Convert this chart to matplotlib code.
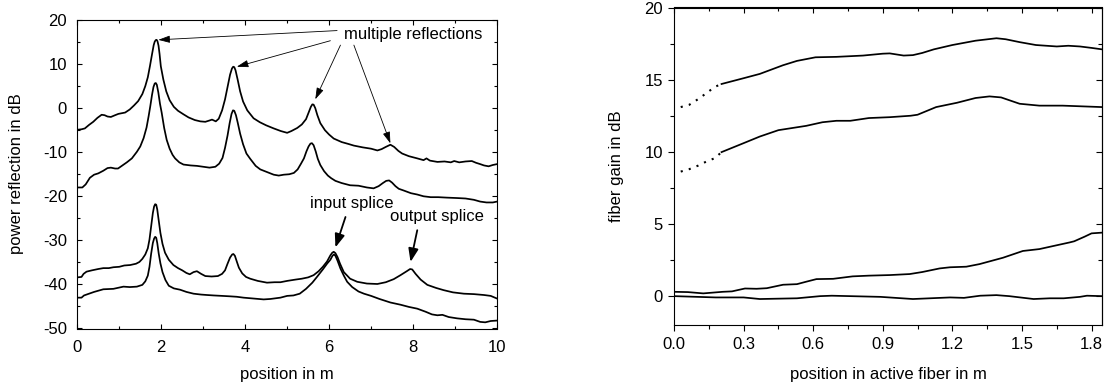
import matplotlib
matplotlib.use("Agg")
import matplotlib.pyplot as plt
from matplotlib.ticker import MultipleLocator, FormatStrFormatter

plt.rcParams['font.family'] = ['Liberation Sans', 'DejaVu Sans']
plt.rcParams['axes.unicode_minus'] = False

# ---------------- Left panel data: power reflection (dB) vs position (m) ----------------
refl1_x = [0.0, 0.1, 0.18, 0.28, 0.38, 0.48, 0.58, 0.65, 0.72, 0.8, 0.9, 0.98, 1.14, 1.25, 1.35, 1.45,
           1.55, 1.62, 1.68, 1.73, 1.78, 1.82, 1.845, 1.87, 1.89, 1.91, 1.935, 1.96, 1.99, 2.05, 2.12, 2.2, 2.3, 2.4,
           2.53, 2.65, 2.8, 2.93, 3.05, 3.15, 3.21, 3.3, 3.37, 3.45, 3.52, 3.58, 3.64, 3.685, 3.715, 3.74, 3.77,
           3.82, 3.88, 3.95, 4.05, 4.2, 4.35, 4.5, 4.68, 4.85, 5.0, 5.1, 5.24, 5.35, 5.45, 5.52, 5.565,
           5.6, 5.63, 5.67, 5.72, 5.79, 5.9, 6.0, 6.11, 6.3, 6.45, 6.59, 6.8, 7.0, 7.15, 7.25, 7.35, 7.46,
           7.55, 7.65, 7.74, 7.9, 8.1, 8.25, 8.32, 8.4, 8.58, 8.75, 8.9, 8.98, 9.1, 9.25, 9.4, 9.5,
           9.6, 9.69, 9.8, 9.9, 10.0]
refl1_y = [-4.9, -4.8, -4.6, -3.8, -3.1, -2.2, -1.5, -1.6, -1.9, -2.0, -1.6, -1.3, -1.0, -0.3, 0.6, 1.6,
           3.2, 5.0, 7.0, 9.5, 12.2, 14.3, 15.1, 15.45, 15.5, 15.2, 14.2, 12.3, 9.5, 6.5, 3.8, 1.8, 0.3, -0.6,
           -1.4, -2.1, -2.7, -3.0, -3.1, -2.8, -2.6, -3.0, -2.4, -0.5, 2.0, 4.8, 7.6, 9.0, 9.4, 9.3, 8.6,
           6.5, 3.8, 1.5, -0.5, -2.3, -3.2, -3.9, -4.6, -5.2, -5.6, -5.2, -4.5, -3.7, -2.5, -0.8, 0.3,
           0.85, 0.8, 0.0, -1.6, -3.4, -5.0, -6.0, -6.9, -7.7, -8.1, -8.5, -8.9, -9.2, -9.6, -9.3, -8.8, -8.3,
           -8.8, -9.7, -10.3, -10.9, -11.4, -11.8, -11.4, -11.9, -12.2, -12.1, -12.3, -12.0, -12.3, -12.1, -12.0, -12.4,
           -12.7, -13.0, -13.2, -12.9, -12.7]

refl2_x = [0.0, 0.12, 0.2, 0.3, 0.4, 0.5, 0.62, 0.72, 0.8, 0.9, 0.97, 1.06, 1.18, 1.3, 1.42, 1.5,
           1.58, 1.65, 1.7, 1.74, 1.78, 1.815, 1.845, 1.87, 1.895, 1.93, 1.97, 2.01, 2.07, 2.13, 2.2, 2.27, 2.33,
           2.43, 2.53, 2.7, 2.85, 3.0, 3.15, 3.29, 3.38, 3.46, 3.52, 3.58, 3.63, 3.675, 3.71, 3.74, 3.78, 3.82,
           3.88, 3.95, 4.03, 4.12, 4.25, 4.36, 4.52, 4.68, 4.8, 4.92, 5.05, 5.16, 5.25, 5.33, 5.4, 5.46,
           5.51, 5.555, 5.59, 5.63, 5.68, 5.73, 5.79, 5.88, 5.97, 6.05, 6.15, 6.3, 6.5, 6.7, 6.9, 7.06, 7.18,
           7.28, 7.36, 7.43, 7.5, 7.58, 7.66, 7.78, 7.95, 8.1, 8.25, 8.42, 8.6, 8.8, 9.05, 9.25, 9.45,
           9.6, 9.75, 9.9, 10.0]
refl2_y = [-18.0, -18.0, -17.3, -15.8, -15.1, -14.8, -14.2, -13.6, -13.5, -13.7, -13.7, -13.1, -12.3, -11.4, -9.9, -8.7,
           -6.8, -4.4, -1.8, 0.5, 3.0, 4.8, 5.6, 5.7, 5.3, 3.6, 1.0, -1.0, -4.5, -7.2, -9.2, -10.6, -11.4,
           -12.3, -12.8, -13.0, -13.1, -13.3, -13.5, -13.3, -12.6, -11.3, -9.0, -6.2, -3.4, -1.3, -0.5, -0.6, -1.6, -3.2,
           -5.8, -8.2, -10.3, -11.5, -13.1, -13.9, -14.5, -15.1, -15.3, -15.1, -15.0, -14.7, -13.9, -12.6, -11.4, -9.8,
           -8.7, -8.05, -7.95, -8.4, -9.8, -11.5, -12.9, -14.3, -15.3, -15.9, -16.5, -17.0, -17.5, -17.6, -18.0, -18.2, -17.7,
           -17.0, -16.5, -16.4, -16.9, -17.7, -18.3, -18.7, -19.3, -19.6, -20.0, -20.2, -20.2, -20.3, -20.4, -20.5, -20.8,
           -21.2, -21.4, -21.4, -21.2]

refl3_x = [0.0, 0.1, 0.15, 0.22, 0.35, 0.5, 0.62, 0.75, 0.86, 1.0, 1.12, 1.26, 1.4, 1.48, 1.55, 1.62,
           1.68, 1.72, 1.76, 1.8, 1.83, 1.855, 1.88, 1.905, 1.94, 1.98, 2.03, 2.09, 2.18, 2.29, 2.4, 2.5, 2.6,
           2.68, 2.77, 2.85, 2.95, 3.05, 3.2, 3.35, 3.45, 3.52, 3.58, 3.64, 3.69, 3.72, 3.755, 3.8, 3.85, 3.93,
           4.02, 4.12, 4.3, 4.52, 4.7, 4.84, 5.0, 5.2, 5.35, 5.5, 5.63, 5.75, 5.85, 5.95, 6.03, 6.075,
           6.11, 6.15, 6.2, 6.26, 6.35, 6.5, 6.67, 6.9, 7.15, 7.35, 7.54, 7.7, 7.85, 7.93, 7.98, 8.06, 8.18,
           8.34, 8.55, 8.73, 8.95, 9.21, 9.45, 9.69, 9.85, 10.0]
refl3_y = [-38.4, -38.3, -37.6, -37.1, -36.8, -36.5, -36.3, -36.3, -36.1, -36.0, -35.7, -35.6, -35.3, -34.9, -34.2, -33.2,
           -31.8, -29.8, -26.8, -23.8, -22.3, -21.8, -21.9, -23.0, -25.5, -28.3, -30.8, -32.8, -34.4, -35.6, -36.3, -36.8, -37.4,
           -37.7, -37.2, -37.0, -37.6, -38.1, -38.2, -38.1, -37.6, -36.8, -35.3, -33.9, -33.2, -33.1, -33.5, -34.8, -36.2, -37.5,
           -38.3, -38.7, -39.2, -39.6, -39.5, -39.5, -39.2, -38.9, -38.7, -38.4, -37.9, -37.0, -36.0, -34.8, -33.4, -32.8,
           -32.6, -32.9, -33.8, -35.3, -37.2, -38.7, -39.4, -39.8, -39.9, -39.5, -38.8, -37.9, -37.0, -36.5, -36.6, -37.6, -38.9,
           -40.1, -40.8, -41.3, -41.8, -42.1, -42.2, -42.4, -42.6, -43.2]

refl4_x = [0.0, 0.1, 0.16, 0.22, 0.4, 0.62, 0.86, 1.1, 1.25, 1.42, 1.55, 1.62, 1.68, 1.72, 1.76, 1.8,
           1.83, 1.855, 1.88, 1.905, 1.94, 1.98, 2.03, 2.1, 2.18, 2.3, 2.45, 2.6, 2.77, 2.95, 3.09, 3.25, 3.45,
           3.64, 3.8, 3.96, 4.2, 4.44, 4.6, 4.84, 5.0, 5.15, 5.3, 5.45, 5.6, 5.71, 5.85, 5.95, 6.03,
           6.08, 6.115, 6.15, 6.2, 6.27, 6.35, 6.43, 6.55, 6.7, 6.83, 7.0, 7.2, 7.46, 7.7, 7.9, 8.1, 8.3,
           8.45, 8.58, 8.7, 8.85, 9.05, 9.25, 9.45, 9.6, 9.72, 9.85, 10.0]
refl4_y = [-43.0, -43.0, -42.5, -42.3, -41.7, -41.1, -41.0, -40.5, -40.6, -40.5, -40.1, -39.3, -38.0, -36.0, -33.0, -30.6,
           -29.6, -29.2, -29.4, -30.6, -33.0, -35.2, -37.2, -39.0, -40.3, -40.9, -41.2, -41.7, -42.1, -42.3, -42.4, -42.5, -42.6,
           -42.7, -42.8, -43.0, -43.2, -43.4, -43.3, -43.0, -42.6, -42.5, -42.1, -41.0, -39.6, -38.3, -36.6, -35.3, -34.4,
           -33.5, -33.2, -33.5, -34.6, -36.4, -38.0, -39.4, -40.6, -41.6, -42.1, -42.6, -43.3, -44.1, -44.6, -45.1, -45.5, -46.2,
           -46.8, -47.0, -46.9, -47.4, -47.7, -47.9, -48.0, -48.5, -48.6, -48.3, -48.2]

# ---------------- Right panel data: fiber gain (dB) vs position in active fiber (m) ----------------
gain1_x = [0.205, 0.30, 0.37, 0.42, 0.47, 0.53, 0.61, 0.70, 0.815, 0.9, 0.93, 0.97, 0.99, 1.03, 1.07, 1.12,
           1.20, 1.30, 1.39, 1.43, 1.49, 1.56, 1.65, 1.70, 1.75, 1.80, 1.845]
gain1_y = [14.7, 15.1, 15.4, 15.7, 16.0, 16.3, 16.55, 16.58, 16.67, 16.8, 16.82, 16.72, 16.67, 16.7, 16.85, 17.1,
           17.4, 17.7, 17.87, 17.8, 17.6, 17.4, 17.3, 17.35, 17.3, 17.2, 17.1]
gain1_dot_x = [0.029, 0.066, 0.105, 0.14, 0.176, 0.205]
gain1_dot_y = [13.1, 13.26, 13.66, 14.07, 14.5, 14.7]

gain2_x = [0.205, 0.30, 0.37, 0.45, 0.51, 0.57, 0.64, 0.70, 0.76, 0.84, 0.93, 1.02, 1.05, 1.13, 1.22, 1.30,
           1.36, 1.41, 1.49, 1.575, 1.675, 1.76, 1.845]
gain2_y = [9.98, 10.6, 11.06, 11.5, 11.65, 11.8, 12.05, 12.15, 12.15, 12.34, 12.4, 12.5, 12.57, 13.1, 13.4, 13.73,
           13.84, 13.77, 13.33, 13.2, 13.2, 13.15, 13.1]
gain2_dot_x = [0.029, 0.066, 0.105, 0.14, 0.176, 0.205]
gain2_dot_y = [8.63, 8.8, 9.05, 9.33, 9.56, 9.98]

gain3_x = [0.0, 0.06, 0.126, 0.21, 0.25, 0.306, 0.356, 0.4, 0.47, 0.53, 0.57, 0.614, 0.686, 0.77, 0.84, 0.93,
           1.016, 1.07, 1.145, 1.19, 1.26, 1.317, 1.418, 1.504, 1.575, 1.654, 1.705, 1.725, 1.77, 1.80, 1.845]
gain3_y = [0.3, 0.28, 0.19, 0.3, 0.33, 0.53, 0.51, 0.55, 0.79, 0.83, 1.0, 1.18, 1.2, 1.37, 1.42, 1.46,
           1.53, 1.67, 1.92, 2.0, 2.04, 2.22, 2.66, 3.13, 3.26, 3.54, 3.72, 3.8, 4.12, 4.35, 4.4]

gain4_x = [0.0, 0.18, 0.3, 0.37, 0.53, 0.63, 0.68, 0.89, 1.03, 1.19, 1.25, 1.32, 1.39, 1.445, 1.55, 1.62,
           1.68, 1.75, 1.78, 1.845]
gain4_y = [0.0, -0.09, -0.09, -0.2, -0.15, 0.0, 0.03, -0.05, -0.2, -0.09, -0.12, 0.03, 0.07, 0.0, -0.2, -0.15,
           -0.15, -0.05, 0.03, 0.0]

# ---------------- Figure ----------------
W, H = 1110, 389
fig = plt.figure(figsize=(W / 100, H / 100), dpi=100)

def px_rect(x0, y0, x1, y1):
    return [x0 / W, 1 - y1 / H, (x1 - x0) / W, (y1 - y0) / H]

LW = 1.25
FS = 12

# ---- Left axes ----
ax1 = fig.add_axes(px_rect(77.3, 20, 497, 328.5))
for xs, ys in [(refl1_x, refl1_y), (refl2_x, refl2_y), (refl3_x, refl3_y), (refl4_x, refl4_y)]:
    ax1.plot(xs, ys, color='black', lw=LW, solid_joinstyle='round')
ax1.set_xlim(0, 10)
ax1.set_ylim(-50, 20)
ax1.xaxis.set_major_locator(MultipleLocator(2))
ax1.xaxis.set_minor_locator(MultipleLocator(1))
ax1.yaxis.set_major_locator(MultipleLocator(10))
ax1.yaxis.set_minor_locator(MultipleLocator(5))
ax1.tick_params(which='both', direction='in', top=True, right=True, width=0.8, labelsize=FS)
ax1.tick_params(which='major', length=3.8)
ax1.tick_params(which='minor', length=2.4)
ax1.tick_params(axis='x', pad=8)
ax1.tick_params(axis='y', pad=7.5)
for s in ax1.spines.values():
    s.set_linewidth(0.8)

# annotations on left axes
ax1.text(6.35, 16.6, 'multiple reflections', fontsize=FS, ha='left', va='center')
thin = dict(arrowstyle='-|>,head_length=0.7,head_width=0.22', lw=0.6, color='black',
            shrinkA=0, shrinkB=0, mutation_scale=10)
ax1.annotate('', xy=(1.93, 15.5), xytext=(6.19, 17.6), arrowprops=thin)
ax1.annotate('', xy=(3.80, 9.4), xytext=(6.03, 15.3), arrowprops=thin)
ax1.annotate('', xy=(5.67, 2.0), xytext=(6.27, 14.3), arrowprops=thin)
ax1.annotate('', xy=(7.46, -8.0), xytext=(6.59, 14.3), arrowprops=thin)

thick = dict(arrowstyle='-|>,head_length=0.8,head_width=0.3', lw=1.3, color='black',
             shrinkA=0, shrinkB=0, mutation_scale=10)
ax1.text(6.53, -21.6, 'input splice', fontsize=FS, ha='center', va='center')
ax1.annotate('', xy=(6.15, -31.6), xytext=(6.39, -24.7), arrowprops=thick)
ax1.text(8.56, -24.7, 'output splice', fontsize=FS, ha='center', va='center')
ax1.annotate('', xy=(7.94, -34.9), xytext=(8.10, -27.7), arrowprops=thick)

# ---- Right axes ----
ax2 = fig.add_axes(px_rect(674, 7.5, 1102, 325))
ax2.plot(gain1_x, gain1_y, color='black', lw=LW)
ax2.plot(gain1_dot_x, gain1_dot_y, color='black', lw=1.5, linestyle=(0, (1, 3)))
ax2.plot(gain2_x, gain2_y, color='black', lw=LW)
ax2.plot(gain2_dot_x, gain2_dot_y, color='black', lw=1.5, linestyle=(0, (1, 3)))
ax2.plot(gain3_x, gain3_y, color='black', lw=LW)
ax2.plot(gain4_x, gain4_y, color='black', lw=LW)
ax2.set_xlim(0, 1.845)
ax2.set_ylim(-2, 20)
ax2.xaxis.set_major_locator(MultipleLocator(0.3))
ax2.xaxis.set_minor_locator(MultipleLocator(0.15))
ax2.xaxis.set_major_formatter(FormatStrFormatter('%.1f'))
ax2.yaxis.set_major_locator(MultipleLocator(5))
ax2.yaxis.set_minor_locator(MultipleLocator(2.5))
ax2.tick_params(which='both', direction='out', width=0.8, labelsize=FS)
ax2.tick_params(which='major', length=4.3)
ax2.tick_params(which='minor', length=2.6)
ax2.tick_params(axis='x', pad=4.5)
ax2.tick_params(axis='y', pad=3.6)
for s in ax2.spines.values():
    s.set_linewidth(0.8)

top = ax2.secondary_xaxis('top')
top.xaxis.set_major_locator(MultipleLocator(0.3))
top.xaxis.set_minor_locator(MultipleLocator(0.15))
top.tick_params(which='both', direction='in', width=0.8, labeltop=False)
top.tick_params(which='major', length=4.3)
top.tick_params(which='minor', length=2.6)
top.spines['top'].set_linewidth(0.8)
right = ax2.secondary_yaxis('right')
right.yaxis.set_major_locator(MultipleLocator(5))
right.yaxis.set_minor_locator(MultipleLocator(2.5))
right.tick_params(which='both', direction='in', width=0.8, labelright=False)
right.tick_params(which='major', length=4.3)
right.tick_params(which='minor', length=2.6)
right.spines['right'].set_linewidth(0.8)

# ---- axis labels ----
fig.text(17 / W, 1 - 174 / H, 'power reflection in dB', rotation=90, ha='center', va='center', fontsize=FS)
fig.text(287 / W, 1 - 379.5 / H, 'position in m', ha='center', va='baseline', fontsize=FS)
fig.text(617 / W, 1 - 166.5 / H, 'fiber gain in dB', rotation=90, ha='center', va='center', fontsize=FS)
fig.text(888 / W, 1 - 379.5 / H, 'position in active fiber in m', ha='center', va='baseline', fontsize=FS)

fig.savefig('out.png', dpi=100)
